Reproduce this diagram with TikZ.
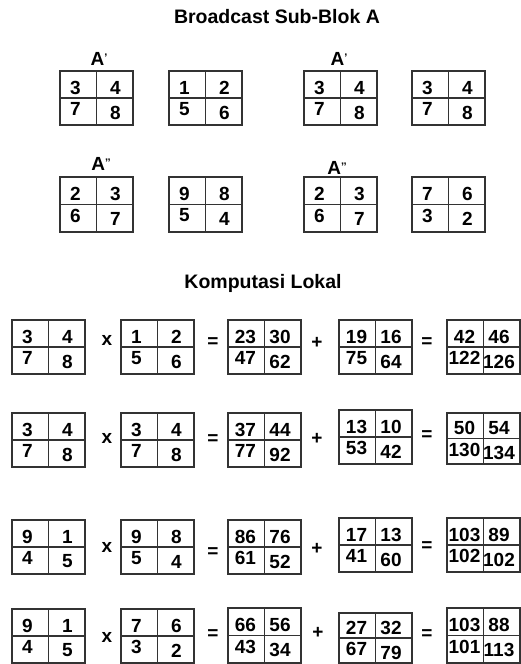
\documentclass[tikz,border=0pt]{standalone}
\usepackage{fontspec}
\setmainfont{Liberation Sans}
\usetikzlibrary{calc}
\tikzset{
  gbox/.style={draw=black!80, line width=1.1pt, minimum width=73pt, minimum height=54pt, inner sep=0pt, outer sep=0pt, anchor=north west},
  gline/.style={draw=black!80, line width=1.1pt},
  num/.style={font=\fontsize{19}{22}\selectfont\bfseries, inner sep=0pt},
  op/.style={font=\fontsize{19}{22}\selectfont\bfseries, inner sep=0pt},
  title/.style={font=\fontsize{19.5}{22}\selectfont\bfseries, inner sep=0pt, anchor=base},
  lbl/.style={font=\fontsize{19}{22}\selectfont\bfseries, inner sep=0pt},
}
\def\hl{-21}\def\hr{19}
\newcommand{\mgrid}[8][54]{%
  \node[gbox, minimum height=#1pt] (#2) at (#3,#4) {};
  \draw[gline] (#2.north) -- (#2.south);
  \draw[gline] (#2.west) -- (#2.east);
  \node[num] (#2a) at ($(#2.center)+(\hl,-10.5)$) {#5};
  \node[num] (#2b) at ($(#2.center)+(\hr,-10.5)$) {#6};
  \node[num] (#2c) at ($(#2.center)+(\hl,11)$) {#7};
  \node[num] (#2d) at ($(#2.center)+(\hr,14.5)$) {#8};
}
\newcommand{\rgrid}[8][54]{%
  \def\hl{-19}\def\hr{15.5}%
  \mgrid[#1]{#2}{#3}{#4}{#5}{#6}{#7}{#8}%
  \def\hl{-21}\def\hr{19}%
}
\begin{document}
\begin{tikzpicture}[x=1pt,y=-1pt]
\useasboundingbox[fill=white] (0,0) rectangle (521,664);
% titles
\node[title] (t1) at (277,23) {Broadcast Sub-Blok A};
\node[title] (t2) at (263,288.5) {Komputasi Lokal};
% labels
\node[lbl] (l1) at (99,59) {A{\fontsize{11}{12}\selectfont\raisebox{4pt}{’}}};
\node[lbl] (l2) at (339,59) {A{\fontsize{11}{12}\selectfont\raisebox{4pt}{’}}};
\node[lbl] (l3) at (101,164) {A{\fontsize{11}{12}\selectfont\raisebox{4pt}{’’}}};
\node[lbl] (l4) at (337,168) {A{\fontsize{11}{12}\selectfont\raisebox{4pt}{’’}}};
% broadcast grids
\mgrid{g11}{60}{71}{3}{4}{7}{8}
\mgrid{g12}{169}{71}{1}{2}{5}{6}
\mgrid{g13}{304}{71}{3}{4}{7}{8}
\mgrid{g14}{412}{71}{3}{4}{7}{8}
\mgrid[55]{g21}{60}{177}{2}{3}{6}{7}
\mgrid[55]{g22}{169}{177}{9}{8}{5}{4}
\mgrid[55]{g23}{304}{177}{2}{3}{6}{7}
\mgrid[55]{g24}{412}{177}{7}{6}{3}{2}
% computation row 1
\mgrid{c11}{12}{320}{3}{4}{7}{8}
\mgrid{c12}{121}{320}{1}{2}{5}{6}
\rgrid{c13}{228}{320}{23}{30}{47}{62}
\rgrid{c14}{339}{320}{19}{16}{75}{64}
\rgrid{c15}{447}{320}{42}{46}{122}{126}
\node[op] (o11) at (107,340) {x};
\node[op] (o12) at (213,343) {=};
\node[op] (o13) at (317,343) {+};
\node[op] (o14) at (427,343) {=};
% row 2
\mgrid{c21}{12}{413}{3}{4}{7}{8}
\mgrid{c22}{121}{413}{3}{4}{7}{8}
\rgrid{c23}{228}{413}{37}{44}{77}{92}
\rgrid{c24}{339}{410}{13}{10}{53}{42}
\rgrid[51]{c25}{447}{413}{50}{54}{130}{134}
\node[op] (o21) at (107,438) {x};
\node[op] (o22) at (213,440) {=};
\node[op] (o23) at (317,439) {+};
\node[op] (o24) at (427,436) {=};
% row 3
\mgrid{c31}{12}{520}{9}{1}{4}{5}
\mgrid{c32}{121}{520}{9}{8}{5}{4}
\rgrid{c33}{228}{520}{86}{76}{61}{52}
\rgrid{c34}{339}{518}{17}{13}{41}{60}
\rgrid{c35}{447}{518}{103}{89}{102}{102}
\node[op] (o31) at (107,547) {x};
\node[op] (o32) at (213,553) {=};
\node[op] (o33) at (317,549) {+};
\node[op] (o34) at (427,547) {=};
% row 4
\mgrid[54]{c41}{12}{609}{9}{1}{4}{5}
\mgrid[54]{c42}{121}{609}{7}{6}{3}{2}
\rgrid[55]{c43}{228}{608}{66}{56}{43}{34}
\rgrid[50]{c44}{339}{613}{27}{32}{67}{79}
\rgrid[55]{c45}{447}{608}{103}{88}{101}{113}
\node[op] (o41) at (107,637) {x};
\node[op] (o42) at (213,635) {=};
\node[op] (o43) at (318,633) {+};
\node[op] (o44) at (427,635) {=};
\end{tikzpicture}
\end{document}
